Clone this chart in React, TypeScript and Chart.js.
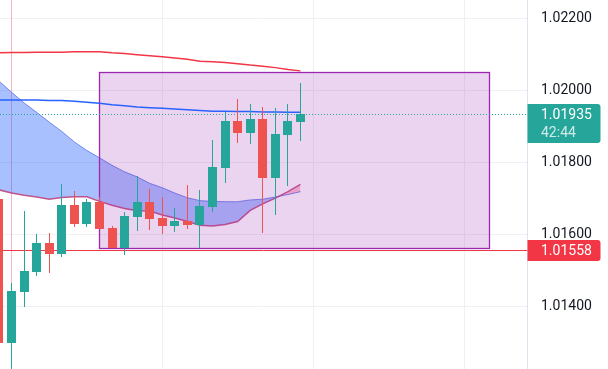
import React, { useEffect, useRef } from 'react';
import { Chart, registerables } from 'chart.js';

Chart.register(...registerables);

// ---- data (index = candle slot) ----
const OPEN = [1.017, 1.013, 1.01442, 1.01497, 1.01578, 1.01547, 1.01683, 1.0163, 1.01691, 1.01619, 1.01564, 1.0165, 1.01691, 1.01647, 1.01625, 1.01639, 1.01627, 1.01677, 1.01786, 1.01916, 1.01883, 1.01922, 1.01758, 1.01877, 1.01913];
const HIGH = [1.01711, 1.01467, 1.01666, 1.01602, 1.01605, 1.01741, 1.01722, 1.017, 1.01705, 1.01625, 1.01664, 1.01763, 1.01727, 1.01705, 1.01675, 1.01738, 1.01725, 1.01863, 1.01941, 1.01977, 1.01963, 1.01955, 1.01952, 1.01963, 1.02021];
const LOW = [1.01281, 1.01211, 1.014, 1.01486, 1.01494, 1.01539, 1.01622, 1.01622, 1.01616, 1.01564, 1.01544, 1.01611, 1.01614, 1.01602, 1.01608, 1.01616, 1.01564, 1.01664, 1.01744, 1.01855, 1.01852, 1.01605, 1.01655, 1.01736, 1.0186];
const CLOSE = [1.013, 1.01444, 1.015, 1.01578, 1.01547, 1.01683, 1.0163, 1.01691, 1.01616, 1.01564, 1.01652, 1.01691, 1.01644, 1.01625, 1.01639, 1.01627, 1.0168, 1.01788, 1.01916, 1.01883, 1.01922, 1.01758, 1.0188, 1.01916, 1.01935];

const CLOUD_UPPER = [1.02027, 1.01996, 1.01966, 1.0194, 1.01913, 1.01887, 1.01858, 1.01834, 1.01814, 1.01793, 1.01775, 1.01761, 1.01743, 1.01731, 1.01716, 1.01703, 1.01695, 1.01693, 1.01692, 1.01692, 1.01697, 1.01699, 1.01705, 1.01712, 1.0172];
const CLOUD_LOWER = [1.01725, 1.01716, 1.0171, 1.01705, 1.01699, 1.01704, 1.01706, 1.01706, 1.01693, 1.01682, 1.01673, 1.01667, 1.01666, 1.01655, 1.01647, 1.01637, 1.01627, 1.01625, 1.01629, 1.01637, 1.01668, 1.01686, 1.01702, 1.0172, 1.0174];
const MA_BLUE = [1.01974, 1.01974, 1.01974, 1.01974, 1.01973, 1.01973, 1.01971, 1.01968, 1.01965, 1.01961, 1.01958, 1.01955, 1.01953, 1.01951, 1.01949, 1.01947, 1.01945, 1.01943, 1.01943, 1.01942, 1.01942, 1.01941, 1.01941, 1.0194, 1.0194];
const MA_RED = [1.02105, 1.02106, 1.02106, 1.02107, 1.02107, 1.02107, 1.02108, 1.02108, 1.02108, 1.02105, 1.02103, 1.021, 1.02097, 1.02094, 1.02091, 1.02087, 1.02082, 1.0208, 1.02078, 1.02075, 1.02071, 1.02068, 1.02064, 1.02059, 1.02055];

const Y_TICKS = [1.014, 1.016, 1.018, 1.02, 1.022];
const V_GRID = [1, 13, 25, 37];
const LAST_PRICE = 1.01935;
const LAST_COUNTDOWN = '42:44';
const ALERT_PRICE = 1.01558;
const RECT_X = [8, 39];
const RECT_Y = [1.02052, 1.01564];

const X_MIN = 0.0848;
const X_MAX = 42.03;
const Y_MIN = 1.01228;
const Y_MAX = 1.022516;

const UP = '#26a69a';
const DOWN = '#ef5350';
const FONT = 'Roboto, "Noto Sans", sans-serif';

const pts = (arr: number[]) => arr.map((v, i) => ({ x: i, y: v }));

const overlay = {
  id: 'overlay',
  beforeDatasetsDraw(chart: any) {
    const { ctx, chartArea: a, scales } = chart;
    const x = scales.x;
    ctx.save();
    V_GRID.forEach((v, k) => {
      const px = Math.round(x.getPixelForValue(v)) + 0.5;
      ctx.strokeStyle = k === 0 ? 'rgba(236,120,150,0.55)' : '#eef0f3';
      ctx.lineWidth = 1;
      ctx.beginPath();
      ctx.moveTo(px, a.top);
      ctx.lineTo(px, a.bottom);
      ctx.stroke();
    });
    ctx.restore();
  },
  afterDatasetDraw(chart: any, args: any) {
    if (args.index !== 1) return;
    const { ctx, chartArea: a, scales } = chart;
    const { x, y } = scales;
    const x0 = Math.round(x.getPixelForValue(RECT_X[0])) + 0.5;
    const x1 = Math.round(x.getPixelForValue(RECT_X[1])) + 0.5;
    const y0 = Math.round(y.getPixelForValue(RECT_Y[0])) + 0.5;
    const y1 = Math.round(y.getPixelForValue(RECT_Y[1])) + 0.5;
    ctx.save();
    ctx.beginPath();
    ctx.rect(a.left, a.top, a.right - a.left, a.bottom - a.top);
    ctx.clip();
    ctx.fillStyle = 'rgba(156,39,176,0.2)';
    ctx.fillRect(x0, y0, x1 - x0, y1 - y0);
    ctx.strokeStyle = '#9c27b0';
    ctx.lineWidth = 1.3;
    ctx.strokeRect(x0, y0, x1 - x0, y1 - y0);
    ctx.restore();
  },
  afterDatasetsDraw(chart: any) {
    const { ctx, chartArea: a, scales } = chart;
    const { x, y } = scales;
    ctx.save();
    ctx.beginPath();
    ctx.rect(a.left, a.top, a.right - a.left, a.bottom - a.top);
    ctx.clip();
    // alert line
    const ay = Math.round(y.getPixelForValue(ALERT_PRICE)) + 0.5;
    ctx.strokeStyle = '#f23645';
    ctx.lineWidth = 1;
    ctx.beginPath();
    ctx.moveTo(a.left, ay);
    ctx.lineTo(a.right, ay);
    ctx.stroke();
    // last price dotted line
    const ly = Math.round(y.getPixelForValue(LAST_PRICE)) + 0.5;
    ctx.strokeStyle = UP;
    ctx.setLineDash([1, 2]);
    ctx.beginPath();
    ctx.moveTo(a.left, ly);
    ctx.lineTo(a.right, ly);
    ctx.stroke();
    ctx.setLineDash([]);
    // candles
    for (let i = 0; i < OPEN.length; i++) {
      const cx = x.getPixelForValue(i);
      const left = Math.round(cx - 4.5);
      const up = CLOSE[i] >= OPEN[i];
      ctx.fillStyle = up ? UP : DOWN;
      const yh = Math.round(y.getPixelForValue(HIGH[i]));
      const yl = Math.round(y.getPixelForValue(LOW[i]));
      ctx.fillRect(left + 4, yh, 1, yl - yh);
      const bt = Math.round(y.getPixelForValue(Math.max(OPEN[i], CLOSE[i])));
      const bb = Math.round(y.getPixelForValue(Math.min(OPEN[i], CLOSE[i])));
      ctx.fillRect(left, bt, 9, Math.max(1, bb - bt));
    }
    ctx.restore();
  },
  afterDraw(chart: any) {
    const { ctx, chartArea: a, scales } = chart;
    const y = scales.y;
    const bx = a.right + 0.5;
    const bw = 73;
    ctx.save();
    ctx.font = `14px ${FONT}`;
    ctx.textAlign = 'left';
    ctx.textBaseline = 'middle';
    // last price box
    const ly = y.getPixelForValue(LAST_PRICE);
    const lt = Math.round(ly) - 10;
    ctx.fillStyle = UP;
    ctx.beginPath();
    (ctx as any).roundRect(bx, lt, bw, 39, [0, 3, 3, 0]);
    ctx.fill();
    ctx.fillStyle = '#ffffff';
    ctx.fillText(LAST_PRICE.toFixed(5), 541, lt + 11.5);
    ctx.fillStyle = 'rgba(255,255,255,0.78)';
    ctx.fillText(LAST_COUNTDOWN, 541, lt + 29);
    // alert box
    const ay = y.getPixelForValue(ALERT_PRICE);
    const at = Math.round(ay) - 10;
    ctx.fillStyle = '#f23645';
    ctx.beginPath();
    (ctx as any).roundRect(bx, at, bw, 21, [0, 3, 3, 0]);
    ctx.fill();
    ctx.fillStyle = '#ffffff';
    ctx.fillText(ALERT_PRICE.toFixed(5), 541, at + 11);
    ctx.restore();
  },
};

export default function App() {
  const ref = useRef<HTMLCanvasElement | null>(null);
  useEffect(() => {
    if (!ref.current) return;
    const chart = new Chart(ref.current, {
      type: 'line',
      data: {
        datasets: [
          {
            label: 'cloud upper',
            data: pts(CLOUD_UPPER),
            borderColor: 'rgba(70,110,240,0.75)',
            borderWidth: 1,
            pointRadius: 0,
            fill: false,
            order: 4,
          },
          {
            label: 'cloud lower',
            data: pts(CLOUD_LOWER),
            borderColor: 'rgba(190,60,120,0.85)',
            borderWidth: 1.5,
            pointRadius: 0,
            fill: { target: 0, above: 'rgba(242,54,100,0.3)', below: 'rgba(41,98,255,0.4)' },
            order: 3,
          },
          {
            label: 'MA blue',
            data: pts(MA_BLUE),
            borderColor: '#2962ff',
            borderWidth: 1.5,
            pointRadius: 0,
            fill: false,
            order: 2,
          },
          {
            label: 'MA red',
            data: pts(MA_RED),
            borderColor: '#f23645',
            borderWidth: 1.5,
            pointRadius: 0,
            fill: false,
            order: 1,
          },
        ],
      } as any,
      options: {
        animation: false,
        responsive: true,
        maintainAspectRatio: false,
        layout: { padding: 0 },
        events: [],
        plugins: { legend: { display: false }, tooltip: { enabled: false } },
        scales: {
          x: { type: 'linear', display: false, min: X_MIN, max: X_MAX },
          y: {
            position: 'right',
            min: Y_MIN,
            max: Y_MAX,
            afterBuildTicks: (s: any) => {
              s.ticks = Y_TICKS.map((v) => ({ value: v }));
            },
            afterFit: (s: any) => {
              s.width = 81;
              s.paddingTop = 0;
              s.paddingBottom = 0;
            },
            grid: { color: '#eff1f4', drawTicks: false },
            border: { color: '#e0e3eb' },
            ticks: {
              padding: 14,
              color: '#131722',
              font: { family: FONT, size: 14 },
              callback: (v: any) => Number(v).toFixed(5),
            },
          },
        },
      } as any,
      plugins: [overlay],
    });
    return () => chart.destroy();
  }, []);
  return (
    <div style={{ position: 'absolute', left: 0, top: 0, width: 608, height: 369, background: '#ffffff' }}>
      <canvas ref={ref} />
    </div>
  );
}
